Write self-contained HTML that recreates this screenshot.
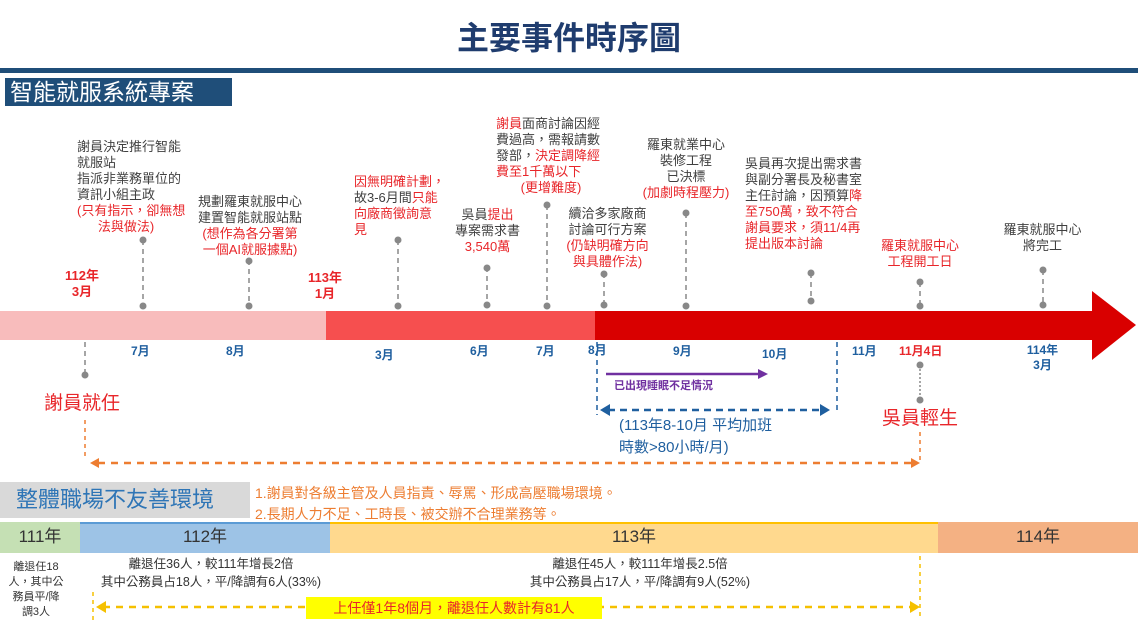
<!DOCTYPE html>
<html><head><meta charset="utf-8"><style>
body{margin:0;width:1138px;height:635px;position:relative;background:#fff;overflow:hidden;font-family:"Liberation Sans","Noto Sans CJK TC",sans-serif}
.t{position:absolute;font-size:13px;line-height:16px;color:#404040;white-space:nowrap}
.c{text-align:center}
.r{color:#e8262a}
.m{position:absolute;font-size:12px;font-weight:bold;color:#1f5f9f}
svg{position:absolute;left:0;top:0}
</style></head><body>
<svg width="1138" height="635">
<rect x="0" y="68" width="1138" height="5" fill="#1f4e79"/>
<rect x="5" y="78" width="227" height="28" fill="#1f4e79"/>
<rect x="0" y="311" width="326" height="29" fill="#f8bcbc"/>
<rect x="326" y="311" width="270" height="29" fill="#f64f4f"/>
<rect x="595" y="311" width="498" height="29" fill="#d90000"/>
<polygon points="1092,291 1136,325 1092,360" fill="#d90000"/>
<g stroke="#888" stroke-width="1.5" stroke-dasharray="5,4">
<line x1="143" y1="240" x2="143" y2="305"/><line x1="249" y1="260" x2="249" y2="305"/>
<line x1="398" y1="240" x2="398" y2="305"/><line x1="487" y1="267" x2="487" y2="305"/>
<line x1="547" y1="205" x2="547" y2="305"/><line x1="604" y1="273" x2="604" y2="305"/>
<line x1="686" y1="213" x2="686" y2="305"/><line x1="811" y1="273" x2="811" y2="300"/>
<line x1="920" y1="282" x2="920" y2="305"/><line x1="1043" y1="270" x2="1043" y2="305"/>
<line x1="85" y1="342" x2="85" y2="375"/>
</g>
<g fill="#888">
<circle cx="143" cy="240" r="3.5"/><circle cx="143" cy="306" r="3.5"/>
<circle cx="249" cy="261" r="3.5"/><circle cx="249" cy="306" r="3.5"/>
<circle cx="398" cy="240" r="3.5"/><circle cx="398" cy="306" r="3.5"/>
<circle cx="487" cy="268" r="3.5"/><circle cx="487" cy="305" r="3.5"/>
<circle cx="547" cy="205" r="3.5"/><circle cx="547" cy="306" r="3.5"/>
<circle cx="604" cy="274" r="3.5"/><circle cx="604" cy="305" r="3.5"/>
<circle cx="686" cy="213" r="3.5"/><circle cx="686" cy="306" r="3.5"/>
<circle cx="811" cy="273" r="3.5"/><circle cx="811" cy="301" r="3.5"/>
<circle cx="920" cy="282" r="3.5"/><circle cx="920" cy="306" r="3.5"/>
<circle cx="1043" cy="270" r="3.5"/><circle cx="1043" cy="305" r="3.5"/>
<circle cx="85" cy="375" r="3.5"/><circle cx="920" cy="365" r="3.5"/><circle cx="920" cy="400" r="3.5"/>
</g>
<line x1="920" y1="365" x2="920" y2="400" stroke="#888" stroke-width="1.5" stroke-dasharray="2,2"/>
<g stroke="#ed7d31" stroke-width="1.5" stroke-dasharray="4,4">
<line x1="85" y1="420" x2="85" y2="460"/><line x1="920" y1="432" x2="920" y2="462"/>
</g>
<line x1="98" y1="463" x2="912" y2="463" stroke="#ed7d31" stroke-width="2.5" stroke-dasharray="7,6"/>
<polygon points="90,463 99,458 99,468" fill="#ed7d31"/><polygon points="920,463 911,458 911,468" fill="#ed7d31"/>
<g stroke="#1f5f9f" stroke-width="1.5" stroke-dasharray="5,4">
<line x1="597" y1="342" x2="597" y2="415"/><line x1="837" y1="342" x2="837" y2="410"/>
</g>
<line x1="608" y1="410" x2="822" y2="410" stroke="#1f5f9f" stroke-width="2.5" stroke-dasharray="7,5"/>
<polygon points="600,410 610,404 610,416" fill="#1f5f9f"/><polygon points="830,410 820,404 820,416" fill="#1f5f9f"/>
<line x1="606" y1="374" x2="760" y2="374" stroke="#7030a0" stroke-width="2.5"/>
<polygon points="768,374 758,369 758,379" fill="#7030a0"/>
<rect x="0" y="482" width="250" height="36" fill="#d9d9d9"/>
<rect x="0" y="522" width="80" height="31" fill="#c5e0b4"/>
<rect x="80" y="522" width="250" height="31" fill="#9dc3e6"/>
<rect x="80" y="522" width="250" height="2" fill="#5b9bd5"/>
<rect x="330" y="522" width="608" height="31" fill="#ffd98e"/>
<rect x="330" y="522" width="608" height="2" fill="#ffc000"/>
<rect x="938" y="522" width="200" height="31" fill="#f4b183"/>
<g stroke="#f5c000" stroke-width="1.5" stroke-dasharray="4,4">
<line x1="93" y1="592" x2="93" y2="620"/><line x1="920" y1="556" x2="920" y2="618"/>
</g>
<line x1="103" y1="607" x2="912" y2="607" stroke="#f5c000" stroke-width="2.5" stroke-dasharray="7,6"/>
<polygon points="96,607 106,601 106,613" fill="#f5c000"/><polygon points="920,607 910,601 910,613" fill="#f5c000"/>
<rect x="306" y="597" width="296" height="22" fill="#ffff00"/>
</svg>
<div class="t c" style="left:0;width:1138px;top:18px;font-size:32px;line-height:40px;font-weight:bold;color:#1f3c6e">主要事件時序圖</div>
<div class="t" style="left:10px;top:78px;font-size:23px;line-height:28px;color:#fff">智能就服系統專案</div>
<div class="t" style="left:77px;top:139px">謝員決定推行智能<br>就服站<br>指派非業務單位的<br>資訊小組主政<br><span class="r">(只有指示，卻無想</span></div>
<div class="t c r" style="left:77px;width:98px;top:219px">法與做法)</div>
<div class="t c" style="left:190px;width:120px;top:194px">規劃羅東就服中心<br>建置智能就服站點<br><span class="r">(想作為各分署第<br>一個AI就服據點)</span></div>
<div class="t r" style="left:65px;top:268px;font-size:13px;font-weight:bold;text-align:center;line-height:16px">112年<br>3月</div>
<div class="t r" style="left:308px;top:270px;font-weight:bold;text-align:center">113年<br>1月</div>
<div class="t" style="left:354px;top:174px"><span class="r">因無明確計劃，</span><br>故3-6月間<span class="r">只能</span><br><span class="r">向廠商徵詢意</span><br><span class="r">見</span></div>
<div class="t c" style="left:445px;width:85px;top:207px">吳員<span class="r">提出</span><br>專案需求書<br><span class="r">3,540萬</span></div>
<div class="t" style="left:496px;top:116px"><span class="r">謝員</span>面商討論因經<br>費過高，需報請數<br>發部，<span class="r">決定調降經</span><br><span class="r">費至1千萬以下</span></div>
<div class="t c r" style="left:496px;width:110px;top:180px">(更增難度)</div>
<div class="t c" style="left:560px;width:95px;top:206px">續洽多家廠商<br>討論可行方案<br><span class="r">(仍缺明確方向<br>與具體作法)</span></div>
<div class="t c" style="left:636px;width:100px;top:137px">羅東就業中心<br>裝修工程<br>已決標<br><span class="r">(加劇時程壓力)</span></div>
<div class="t" style="left:745px;top:156px">吳員再次提出需求書<br>與副分署長及秘書室<br>主任討論，因預算<span class="r">降</span><br><span class="r">至750萬，致不符合</span><br><span class="r">謝員要求，須11/4再</span><br><span class="r">提出版本討論</span></div>
<div class="t c r" style="left:870px;width:100px;top:238px">羅東就服中心<br>工程開工日</div>
<div class="t c" style="left:990px;width:105px;top:222px">羅東就服中心<br>將完工</div>
<div class="m" style="left:131px;top:342px">7月</div>
<div class="m" style="left:226px;top:342px">8月</div>
<div class="m" style="left:375px;top:346px">3月</div>
<div class="m" style="left:470px;top:342px">6月</div>
<div class="m" style="left:536px;top:342px">7月</div>
<div class="m" style="left:588px;top:341px">8月</div>
<div class="m" style="left:673px;top:342px">9月</div>
<div class="m" style="left:762px;top:345px">10月</div>
<div class="m" style="left:852px;top:342px">11月</div>
<div class="m r" style="left:899px;top:342px;color:#e8262a">11月4日</div>
<div class="m c" style="left:1020px;width:45px;top:343px;line-height:15px">114年<br>3月</div>
<div class="t r" style="left:44px;top:392px;font-size:19px;line-height:24px">謝員就任</div>
<div class="t r" style="left:882px;top:407px;font-size:19px;line-height:24px">吳員輕生</div>
<div class="t" style="left:614px;top:378px;font-size:11px;font-weight:bold;color:#7030a0">已出現睡眠不足情況</div>
<div class="t" style="left:619px;top:415px;font-size:15px;line-height:22px;color:#1f5f9f">(113年8-10月 平均加班<br>時數>80小時/月)</div>
<div class="t" style="left:16px;top:485px;font-size:22px;line-height:30px;color:#2e75b6">整體職場不友善環境</div>
<div class="t" style="left:255px;top:483px;font-size:14px;line-height:21px;color:#ed7d31">1.謝員對各級主管及人員指責、辱罵、形成高壓職場環境。<br>2.長期人力不足、工時長、被交辦不合理業務等。</div>
<div class="t c" style="left:0;width:80px;top:526px;font-size:17px;line-height:22px;color:#333">111年</div>
<div class="t c" style="left:80px;width:250px;top:526px;font-size:17px;line-height:22px;color:#333">112年</div>
<div class="t c" style="left:330px;width:608px;top:526px;font-size:17px;line-height:22px;color:#333">113年</div>
<div class="t c" style="left:938px;width:200px;top:526px;font-size:17px;line-height:22px;color:#333">114年</div>
<div class="t c" style="left:0;width:72px;top:560px;font-size:11px;line-height:15px;color:#333">離退任18<br>人，其中公<br>務員平/降<br>調3人</div>
<div class="t c" style="left:80px;width:262px;top:555px;font-size:12.5px;line-height:18px;color:#333">離退任36人，較111年增長2倍<br>其中公務員占18人，平/降調有6人(33%)</div>
<div class="t c" style="left:490px;width:300px;top:555px;font-size:12.5px;line-height:18px;color:#333">離退任45人，較111年增長2.5倍<br>其中公務員占17人，平/降調有9人(52%)</div>
<div class="t c" style="left:306px;width:296px;top:599px;font-size:14px;line-height:18px;color:#e8262a">上任僅1年8個月，離退任人數計有81人</div>
</body></html>
